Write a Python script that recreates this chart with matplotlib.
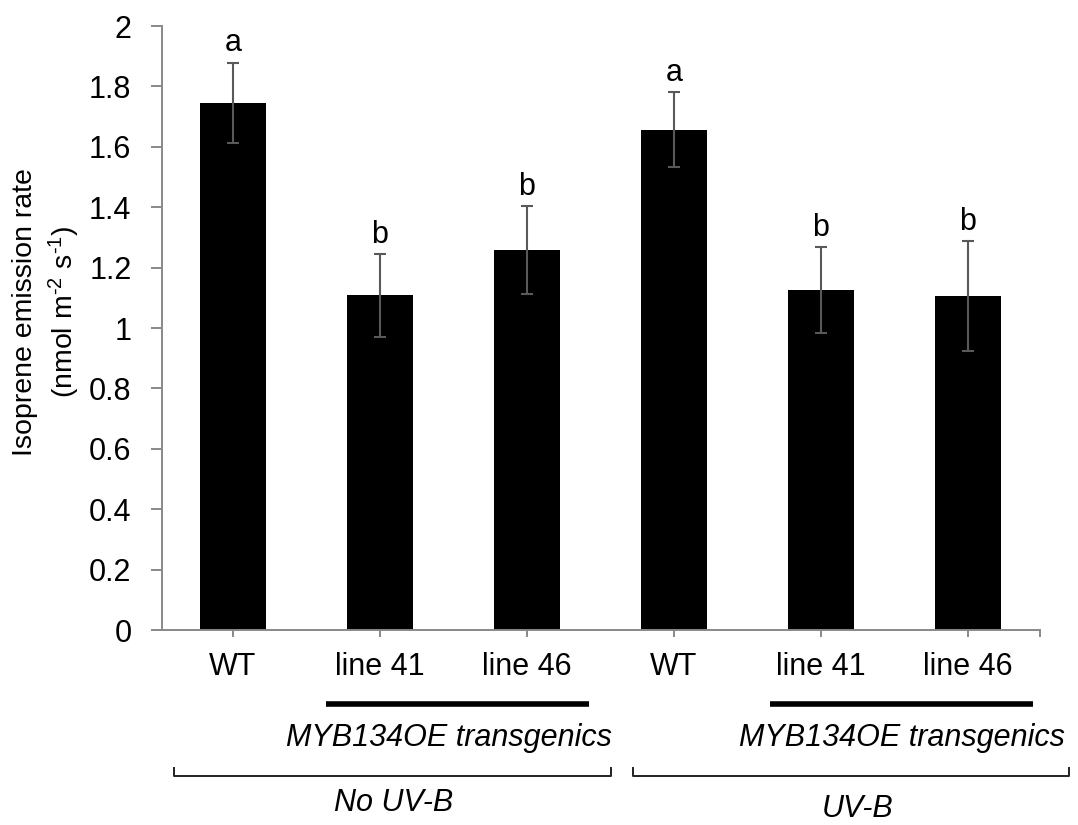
import matplotlib.pyplot as plt
import matplotlib.transforms as mtransforms

plt.rcParams['font.family'] = ['Liberation Sans', 'DejaVu Sans']
plt.rcParams['mathtext.fontset'] = 'custom'
plt.rcParams['mathtext.rm'] = 'Liberation Sans'
plt.rcParams['mathtext.it'] = 'Liberation Sans:italic'

# Data
groups = ['WT', 'line 41', 'line 46', 'WT', 'line 41', 'line 46']
rates = [1.746, 1.108, 1.259, 1.657, 1.125, 1.107]
errors = [0.133, 0.137, 0.146, 0.124, 0.142, 0.182]
letters = ['a', 'b', 'b', 'a', 'b', 'b']

AXIS_GRAY = '#898989'
ERR_GRAY = '#595959'
FS = 22
FS_Y = 20.5

fig = plt.figure(figsize=(10.78, 8.25), dpi=100)
ax = fig.add_axes([162 / 1078, 1 - 630 / 825, 878 / 1078, 604 / 825])

x = list(range(len(groups)))
ax.bar(x, rates, width=0.455, color='black', edgecolor='none', zorder=2)
ax.errorbar(x, rates, yerr=errors, fmt='none', ecolor=ERR_GRAY,
            elinewidth=1.5, capsize=4, capthick=1.5, zorder=3)

for xi, r, e, l in zip(x, rates, errors, letters):
    ax.annotate(l, (xi, r + e), xytext=(0, 3), textcoords='offset points',
                ha='center', va='bottom', fontsize=FS)

ax.set_xlim(-0.483, 5.49)
ax.set_ylim(0, 2)
ax.set_yticks([0, 0.2, 0.4, 0.6, 0.8, 1, 1.2, 1.4, 1.6, 1.8, 2])
ax.set_yticklabels(['0', '0.2', '0.4', '0.6', '0.8', '1', '1.2', '1.4',
                    '1.6', '1.8', '2'])
ax.set_xticks(x)
ax.set_xticklabels(groups)
ax.set_xticks([5.49], minor=True)

for s in ['top', 'right']:
    ax.spines[s].set_visible(False)
for s in ['left', 'bottom']:
    ax.spines[s].set_color(AXIS_GRAY)
    ax.spines[s].set_linewidth(1.4)

ax.tick_params(axis='y', direction='out', length=8, width=1.4,
               color=AXIS_GRAY, labelsize=FS, pad=14)
ax.tick_params(axis='x', which='both', direction='out', length=5,
               width=1.4, color=AXIS_GRAY, labelsize=FS, pad=11)

# y label, two centred lines
fig.text(25 / 1078, 1 - 312 / 825, 'Isoprene emission rate', rotation=90,
         ha='center', va='center', fontsize=FS_Y)
fig.text(64 / 1078, 1 - 312 / 825,
         r'(nmol m$^{\text{-2}}$ s$^{\text{-1}}$)',
         rotation=90, ha='center', va='center', fontsize=FS_Y)

# group annotations below the axis
tr = mtransforms.blended_transform_factory(ax.transData, fig.transFigure)
for x0, x1, xt in [(0.63, 2.42, 1.47), (3.65, 5.44, 4.55)]:
    ax.plot([x0, x1], [1 - 704 / 825] * 2, color='black', lw=4,
            transform=tr, clip_on=False, solid_capstyle='butt')
    ax.text(xt, 1 - 738 / 825, 'MYB134OE transgenics',
            transform=tr, ha='center', va='center', fontsize=FS,
            style='italic')

ybr = 1 - 776 / 825
ytop = 1 - 768 / 825
for x0, x1, label, xl, yl in [(-0.40, 2.57, 'No UV-B', 1.09, 803),
                              (2.72, 5.69, 'UV-B', 4.25, 809)]:
    ax.plot([x0, x0, x1, x1], [ytop, ybr, ybr, ytop], color='#222222',
            lw=1.4, transform=tr, clip_on=False)
    ax.text(xl, 1 - yl / 825, label, transform=tr,
            ha='center', va='center', fontsize=FS, style='italic')

fig.savefig('out.png', dpi=100)
